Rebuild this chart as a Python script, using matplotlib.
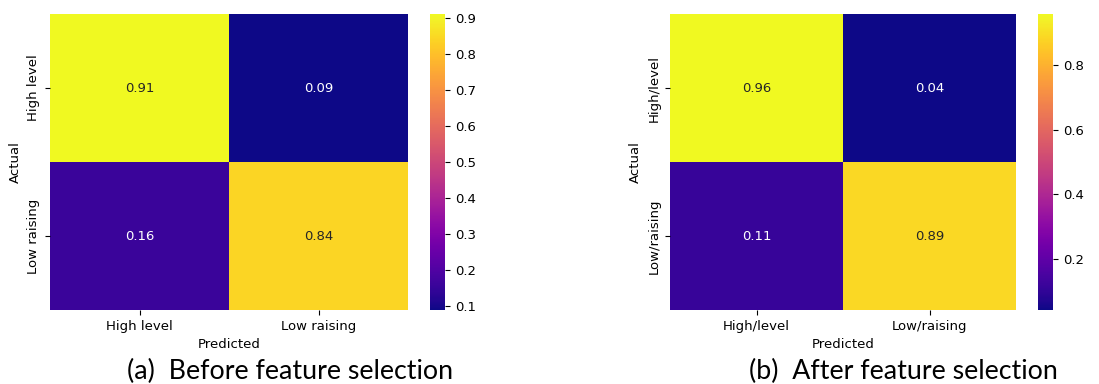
import matplotlib
matplotlib.use("Agg")
import matplotlib.pyplot as plt
import seaborn as sns
import numpy as np

# confusion matrices (row-normalised)
labels_before = ["High level", "Low raising"]
cm_before = np.array([[0.91, 0.09],
                      [0.16, 0.84]])

labels_after = ["High/level", "Low/raising"]
cm_after = np.array([[0.96, 0.04],
                     [0.11, 0.89]])

captions = ["(a)  Before feature selection", "(b)  After feature selection"]

W, H = 1099, 384
fig = plt.figure(figsize=(W / 100, H / 100), dpi=100)


def box(x0, y0, x1, y1):
    # pixel box (top-left origin) -> figure fraction
    return [x0 / W, 1 - y1 / H, (x1 - x0) / W, (y1 - y0) / H]


panels = [
    (cm_before, labels_before, box(50, 14, 408, 310), box(430, 14, 445, 310), 290),
    (cm_after, labels_after, box(670, 14, 1016, 310), box(1038, 14, 1053, 310), 903),
]

fs = 9.5
for (cm, labels, hm_box, cb_box, cap_x), cap in zip(panels, captions):
    ax = fig.add_axes(hm_box)
    cax = fig.add_axes(cb_box)
    sns.heatmap(cm, annot=True, fmt=".2f", cmap="plasma", ax=ax, cbar_ax=cax,
                xticklabels=labels, yticklabels=labels,
                annot_kws={"fontsize": fs})
    ax.set_xlabel("Predicted", fontsize=fs)
    ax.set_ylabel("Actual", fontsize=fs)
    ax.tick_params(labelsize=fs)
    ax.set_yticklabels(labels, rotation=90, va="center", fontsize=fs)
    ax.set_xticklabels(labels, rotation=0, fontsize=fs)
    cax.tick_params(labelsize=fs)
    fig.text(cap_x / W, 1 - 371 / H, cap, ha="center", va="center",
             fontsize=19.3, family="Lato")

fig.savefig("out.png", dpi=100)
